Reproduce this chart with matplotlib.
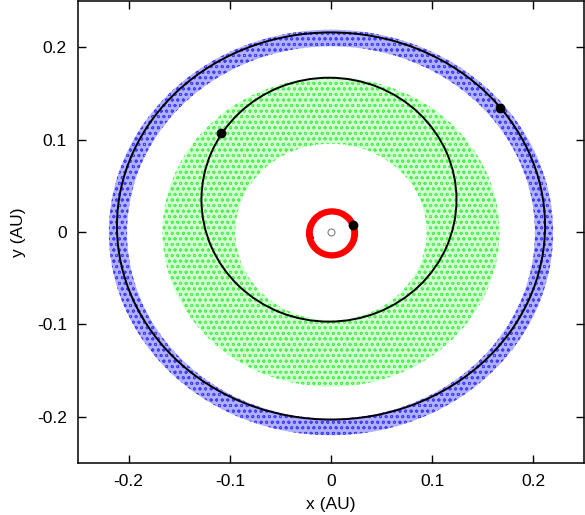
import matplotlib
matplotlib.use("Agg")
import matplotlib.pyplot as plt
from matplotlib.patches import Annulus, Arc

plt.rcParams["font.family"] = ["Liberation Sans", "DejaVu Sans"]
plt.rcParams["hatch.linewidth"] = 0.6

# --- dust rings (centre, outer semi-axes, ring thickness) ---
ring_colors = ["#4040ff", "#50f050", "#ff0000"]
ring_tints = ["#b0b0ff", "#d2ffd2", "#ff0000"]
ring_cx = [0.0, 0.0, 0.001]
ring_cy = [-0.0005, 0.0, -0.0015]
ring_ax = [0.2195, 0.1665, 0.0258]
ring_ay = [0.2195, 0.1675, 0.0272]
ring_width = [0.018, 0.072, 0.0068]
ring_hatch = ["ooo", "ooo", None]

# --- planet orbits ---
orbit_cx = [0.0, -0.002, 0.0012]
orbit_cy = [0.0065, 0.035, 0.0015]
orbit_ax = [0.2115, 0.126, 0.0208]
orbit_ay = [0.2095, 0.132, 0.019]
orbit_t1 = [0, 0, 20]
orbit_t2 = [360, 360, 205]

# --- planets and star ---
planet_x = [0.1673, -0.109, 0.0222]
planet_y = [0.1346, 0.107, 0.0078]
star_x = [0.0]
star_y = [0.0]

ticks = [-0.2, -0.1, 0, 0.1, 0.2]
tick_labels = ["-0.2", "-0.1", "0", "0.1", "0.2"]

fig = plt.figure(figsize=(5.85, 5.15), dpi=100)
ax = fig.add_axes([0.1333, 0.101, 0.865, 0.897])

for i in range(len(ring_cx)):
    if ring_hatch[i]:
        p = Annulus((ring_cx[i], ring_cy[i]), (ring_ax[i], ring_ay[i]), ring_width[i],
                    facecolor=ring_tints[i], edgecolor=ring_colors[i], linewidth=0,
                    hatch=ring_hatch[i], zorder=1)
    else:
        p = Annulus((ring_cx[i], ring_cy[i]), (ring_ax[i], ring_ay[i]), ring_width[i],
                    facecolor=ring_colors[i], edgecolor="none", linewidth=0, zorder=3)
    ax.add_patch(p)

for i in range(len(orbit_cx)):
    ax.add_patch(Arc((orbit_cx[i], orbit_cy[i]), 2 * orbit_ax[i], 2 * orbit_ay[i],
                     theta1=orbit_t1[i], theta2=orbit_t2[i],
                     color="black", linewidth=1.4, zorder=2))

ax.plot(planet_x, planet_y, "o", color="black", markersize=6, zorder=5)
ax.plot(star_x, star_y, "o", mfc="none", mec="#808080", markersize=5, mew=0.8, zorder=5)

ax.set_xlim(-0.25, 0.25)
ax.set_ylim(-0.25, 0.25)
ax.set_xticks(ticks)
ax.set_xticklabels(tick_labels)
ax.set_yticks(ticks)
ax.set_yticklabels(tick_labels)
ax.tick_params(direction="in", length=6, width=1, top=True, right=True,
               labelsize=12.5, pad=8)
for s in ax.spines.values():
    s.set_linewidth(1.1)
ax.set_xlabel("x (AU)", fontsize=12.5, labelpad=6)
ax.set_ylabel("y (AU)", fontsize=12.5, labelpad=8)

fig.savefig("out.png", dpi=100)
